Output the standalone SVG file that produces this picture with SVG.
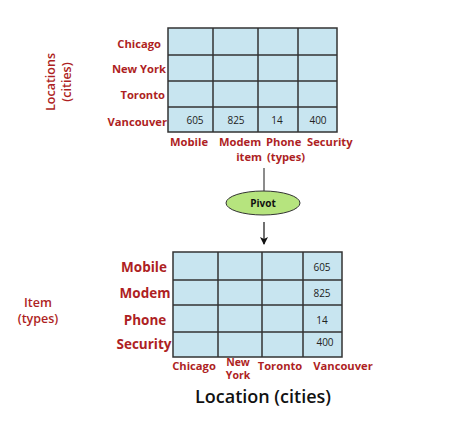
<svg xmlns="http://www.w3.org/2000/svg" width="456" height="433" viewBox="0 0 456 433">
<style>
.lbl{font-family:"Open Sans","Liberation Sans",Arial,sans-serif;font-weight:bold;fill:#ae1f24;}
.s{font-size:11.2px;}
.ny{font-size:10.5px;}
.m{font-size:13.5px;}
.ax{font-family:"Open Sans","Liberation Sans",Arial,sans-serif;font-weight:600;font-size:12.5px;fill:#ae1f24;}
.num{font-family:"Open Sans","Liberation Sans",Arial,sans-serif;font-size:10px;fill:#222;}
.cell{fill:#c8e5f0;stroke:#333;stroke-width:1.5;}
.grid{stroke:#333;stroke-width:1.5;fill:none;}
</style>
<defs>
<marker id="ah" markerWidth="8" markerHeight="8" refX="7" refY="4" orient="auto" markerUnits="userSpaceOnUse">
<path d="M0,0 L8,4 L0,8 L2,4 Z" fill="#111"/>
</marker>
</defs>
<rect width="456" height="433" fill="#fff"/>

<g id="top-table">
<rect class="cell" x="168" y="28" width="169" height="104"/>
<path class="grid" d="M213,28V132M258,28V132M298,28V132M168,55H337M168,81H337M168,107H337"/>
<text class="num" x="195" y="124" text-anchor="middle">605</text>
<text class="num" x="236" y="124" text-anchor="middle">825</text>
<text class="num" x="277" y="124" text-anchor="middle">14</text>
<text class="num" x="318" y="124" text-anchor="middle">400</text>
</g>
<g id="top-row-labels" class="lbl s" text-anchor="end">
<text x="161" y="48">Chicago</text>
<text x="166" y="73">New York</text>
<text x="165" y="99">Toronto</text>
<text x="167" y="126">Vancouver</text>
</g>
<g id="top-col-labels" class="lbl s">
<text x="170" y="146">Mobile</text>
<text x="219" y="146">Modem</text>
<text x="266" y="146">Phone</text>
<text x="307" y="146">Security</text>
<text x="262" y="161" text-anchor="end">item</text>
<text x="267" y="161">(types)</text>
</g>
<g id="top-axis" class="ax" text-anchor="middle">
<text transform="translate(55,82) rotate(-90)">Locations</text>
<text transform="translate(71,82) rotate(-90)">(cities)</text>
</g>

<g id="connectors">
<line x1="264" y1="168" x2="264" y2="191" stroke="#666" stroke-width="1.5"/>
<line x1="264" y1="222" x2="264" y2="244" stroke="#111" stroke-width="1.2" marker-end="url(#ah)"/>
</g>
<g id="pivot">
<ellipse cx="263" cy="203" rx="37" ry="12" fill="#b6e47e" stroke="#333" stroke-width="1"/>
<text x="263" y="207" text-anchor="middle" font-family="Open Sans,Liberation Sans,Arial,sans-serif" font-weight="bold" font-size="10" fill="#111">Pivot</text>
</g>

<g id="bottom-table">
<rect class="cell" x="173" y="252" width="169" height="105"/>
<path class="grid" d="M218,252V357M262,252V357M303,252V357M173,280H342M173,305H342M173,332H342"/>
<text class="num" x="322" y="271" text-anchor="middle">605</text>
<text class="num" x="322" y="297" text-anchor="middle">825</text>
<text class="num" x="322" y="324" text-anchor="middle">14</text>
<text class="num" x="325" y="346" text-anchor="middle">400</text>
</g>
<g id="bottom-row-labels" class="lbl m" text-anchor="middle">
<text x="144" y="272">Mobile</text>
<text x="145" y="298">Modem</text>
<text x="145" y="325">Phone</text>
<text x="144" y="349">Security</text>
</g>
<g id="bottom-col-labels" class="lbl s" text-anchor="middle">
<text x="194" y="370">Chicago</text>
<text class="ny" x="238" y="366">New</text>
<text class="ny" x="238" y="379">York</text>
<text x="280" y="370">Toronto</text>
<text x="343" y="370">Vancouver</text>
</g>
<g id="bottom-axis" class="ax" text-anchor="middle">
<text x="38" y="307">Item</text>
<text x="38" y="323">(types)</text>
</g>
<text x="263" y="403" text-anchor="middle" font-family="Open Sans,Liberation Sans,Arial,sans-serif" font-weight="600" font-size="18" fill="#111">Location (cities)</text>
</svg>
